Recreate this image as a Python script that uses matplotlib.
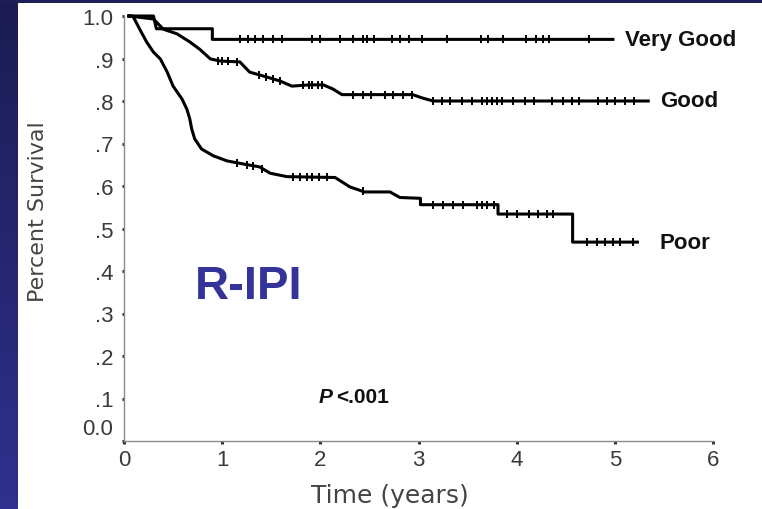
import numpy as np
import matplotlib
matplotlib.use("Agg")
import matplotlib.pyplot as plt
from matplotlib.transforms import ScaledTranslation

# Kaplan-Meier curves (time in years, survival fraction);
# a repeated time marks a vertical drop
vg_t = [0.05, 0.30, 0.33, 0.90, 0.90, 4.98]
vg_s = [1.0, 1.0, 0.970, 0.970, 0.945, 0.945]
vg_cens = [1.18, 1.26, 1.33, 1.42, 1.52, 1.61, 1.92, 2.0, 2.2, 2.33, 2.43, 2.48,
           2.55, 2.73, 2.81, 2.9, 3.04, 3.29, 3.64, 3.71, 3.86, 4.1, 4.2, 4.27,
           4.33, 4.74]

good_t = [0.05, 0.30, 0.40, 0.54, 0.67, 0.77, 0.88, 0.98, 1.18, 1.28, 1.46, 1.59,
          1.71, 1.89, 2.03, 2.13, 2.22, 2.94, 3.04, 3.15, 5.34]
good_s = [1.0, 0.993, 0.969, 0.958, 0.939, 0.922, 0.899, 0.894, 0.892, 0.868,
          0.856, 0.847, 0.835, 0.838, 0.838, 0.828, 0.815, 0.815, 0.807, 0.800,
          0.800]
good_cens = [0.96, 1.0, 1.06, 1.15, 1.38, 1.45, 1.52, 1.59, 1.82, 1.88, 1.92,
             1.98, 2.02, 2.33, 2.43, 2.52, 2.66, 2.74, 2.84, 2.93, 3.15, 3.24,
             3.32, 3.44, 3.54, 3.65, 3.70, 3.75, 3.80, 3.85, 3.96, 4.08, 4.18,
             4.36, 4.47, 4.56, 4.64, 4.83, 4.92, 5.0, 5.1, 5.2]

poor_t = [0.05, 0.09, 0.16, 0.23, 0.30, 0.37, 0.44, 0.50, 0.59, 0.64, 0.67, 0.69,
          0.72, 0.79, 0.91, 1.05, 1.21, 1.38, 1.49, 1.66, 2.15, 2.30, 2.45, 2.71,
          2.81, 3.02, 3.02, 3.81, 3.81, 4.57, 4.57, 5.23]
poor_s = [1.0, 1.0, 0.969, 0.939, 0.915, 0.899, 0.868, 0.835, 0.805, 0.781,
          0.758, 0.734, 0.711, 0.687, 0.671, 0.659, 0.652, 0.645, 0.630, 0.622,
          0.620, 0.598, 0.586, 0.586, 0.573, 0.571, 0.556, 0.556, 0.534, 0.534,
          0.468, 0.468]
poor_cens = [1.15, 1.25, 1.31, 1.41, 1.72, 1.79, 1.86, 1.92, 1.99, 2.07, 2.43,
             3.15, 3.25, 3.35, 3.45, 3.6, 3.65, 3.70, 3.77, 3.9, 4.0, 4.13,
             4.22, 4.31, 4.37, 4.72, 4.82, 4.90, 4.98, 5.05, 5.18]

curve_names = ["Very Good", "Good", "Poor"]
yticks = [0.0, 0.1, 0.2, 0.3, 0.4, 0.5, 0.6, 0.7, 0.8, 0.9, 1.0]
ytick_labels = ["0.0", ".1", ".2", ".3", ".4", ".5", ".6", ".7", ".8", ".9", "1.0"]
xticks = [0, 1, 2, 3, 4, 5, 6]

fig = plt.figure(figsize=(7.62, 5.10), dpi=100, facecolor="white")

# dark blue slide border (left strip with gradient, thin top band)
bg = fig.add_axes([0, 0, 18 / 762, 1])
grad = np.linspace(0, 1, 256).reshape(-1, 1)
cmap = matplotlib.colors.LinearSegmentedColormap.from_list("b", ["#1c1c52", "#30308e"])
bg.imshow(grad, aspect="auto", cmap=cmap, extent=[0, 1, 1, 0])
bg.set_axis_off()
top = fig.add_axes([0, 1 - 4 / 510, 1, 4 / 510])
top.set_facecolor("#1e1e58")
top.set_xticks([])
top.set_yticks([])
for s in top.spines.values():
    s.set_visible(False)

ax = fig.add_axes([124 / 762, 68 / 510, 589 / 762, 425 / 510])
ax.set_xlim(0, 6)
ax.set_ylim(0, 1.0)

for times, surv, cens in [(vg_t, vg_s, vg_cens),
                          (good_t, good_s, good_cens),
                          (poor_t, poor_s, poor_cens)]:
    ax.plot(times, surv, color="black", lw=2.2, clip_on=False,
            solid_joinstyle="round")
    # censoring ticks sit on the curve
    cy = [surv[max(i for i, t in enumerate(times) if t <= c)] if c >= times[-2]
          else np.interp(c, times, surv) for c in cens]
    ax.plot(cens, cy, ls="none", marker="|", ms=6, mew=1.4, color="black",
            clip_on=False)

label_x = [5.10, 5.46, 5.46]
label_y = [vg_s[-1], good_s[-1], poor_s[-1]]
for name, lx, ly in zip(curve_names, label_x, label_y):
    ax.text(lx, ly, name, fontsize=16, fontweight="bold", color="#111111",
            family="Liberation Sans", va="center", ha="left")

ax.text(0.72, 0.365, "R-IPI", fontsize=34, fontweight="bold", color="#333399",
        family="Liberation Sans", va="center", ha="left")
ax.text(1.98, 0.104, "P", fontsize=15, fontweight="bold", style="italic",
        color="#111111", family="Liberation Sans", va="center", ha="left")
ax.text(2.16, 0.104, "<.001", fontsize=15, fontweight="bold",
        color="#111111", family="Liberation Sans", va="center", ha="left")

for side in ["top", "right"]:
    ax.spines[side].set_visible(False)
for side in ["left", "bottom"]:
    ax.spines[side].set_color("#8a8a8a")
    ax.spines[side].set_linewidth(1.0)

ax.set_yticks(yticks)
ax.set_yticklabels(ytick_labels)
ax.set_xticks(xticks)
ax.tick_params(axis="both", length=1.8, width=2.2, color="#333333",
               labelcolor="#3a3a3a", labelsize=16)
ax.tick_params(axis="y", pad=6)
ax.tick_params(axis="x", pad=4)
for lab in ax.get_xticklabels() + ax.get_yticklabels():
    lab.set_family("Liberation Sans")
zero_lab = ax.get_yticklabels()[0]
zero_lab.set_transform(zero_lab.get_transform()
                       + ScaledTranslation(0, 0.15, fig.dpi_scale_trans))

fig.text(390 / 762, 1 - 496 / 510, "Time (years)", fontsize=18, color="#444444",
         family="DejaVu Sans", ha="center", va="center")
fig.text(38 / 762, 1 - 212 / 510, "Percent Survival", fontsize=16, color="#444444",
         family="DejaVu Sans", ha="center", va="center", rotation=90)

fig.savefig("out.png", dpi=100, facecolor="white")
